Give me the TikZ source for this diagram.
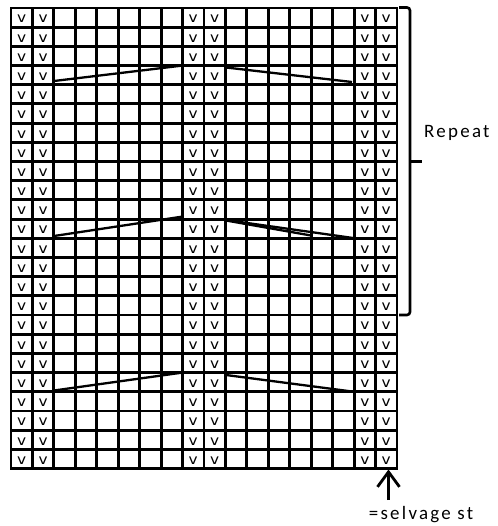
\documentclass[tikz,border=0pt]{standalone}
\usepackage{fontspec}
\setmainfont{Carlito}
\newfontfamily\vfont{DejaVu Sans}
\newfontfamily\lblfont[LetterSpace=12]{Carlito}
\usetikzlibrary{arrows.meta}
\def\cw{21.444}
\def\rh{19.19}
\tikzset{
  gridline/.style={line width=2.9bp, line cap=rect},
  diag/.style={line width=2.3bp},
  vmark/.style={inner sep=0pt, font=\vfont\fontsize{14}{14}\selectfont},
  bracketline/.style={line width=2.6bp, rounded corners=3bp},
  lbl/.style={inner sep=0pt, font=\lblfont\fontsize{19}{19}\selectfont},
}
\begin{document}
\begin{tikzpicture}[x=1bp,y=-1bp]
\useasboundingbox (0,0) rectangle (498,526);
% grid
\foreach \i in {0,...,18}
  \draw[gridline] ({11+\i*\cw},8) -- ({11+\i*\cw},{8+24*\rh});
\foreach \j in {0,...,24}
  \draw[gridline] (11,{8+\j*\rh}) -- ({11+18*\cw},{8+\j*\rh});
% v marks
\foreach \c in {1,2,9,10,17,18}
  \foreach \r in {1,...,24}
    \node[vmark] (v-\c-\r) at ({11+(\c-0.5)*\cw},{8+(\r-0.5)*\rh+1.5}) {\scalebox{1.1}[1]{v}};
% diagonal lines
\draw[diag] (54,81) -- (183,65.5);
\draw[diag] (226,67.5) -- (352,82);
\draw[diag] (54,236) -- (183,216.5);
\draw[diag] (226,220) -- (353,238);
\draw[diag] (226,220.5) -- (311,235.5);
\draw[diag] (54,390.5) -- (183,372.5);
\draw[diag] (226,375) -- (352,391.5);
% bracket
\coordinate (btop) at (399,7.5);
\coordinate (bbot) at (399,315);
\coordinate (bmid) at (410,161.5);
\coordinate (btip) at (422,161.5);
\draw[bracketline] (btop) -- (410,7.5) -- (410,315) -- (bbot);
\draw[line width=2.6bp] (bmid) -- (btip);
\node[lbl, anchor=base west] (repeat) at (424,138) {Repeat};
% selvage arrow
\coordinate (arrtip) at (388.5,469.5);
\coordinate (arrtail) at (388.5,500);
\draw[line width=2.8bp, -{Straight Barb[length=15bp,width=22bp,line width=2.8bp]}] (arrtail) -- (arrtip);
\node[lbl, anchor=base] (selv) at (421,519.5) {=selvage st};
\end{tikzpicture}
\end{document}
